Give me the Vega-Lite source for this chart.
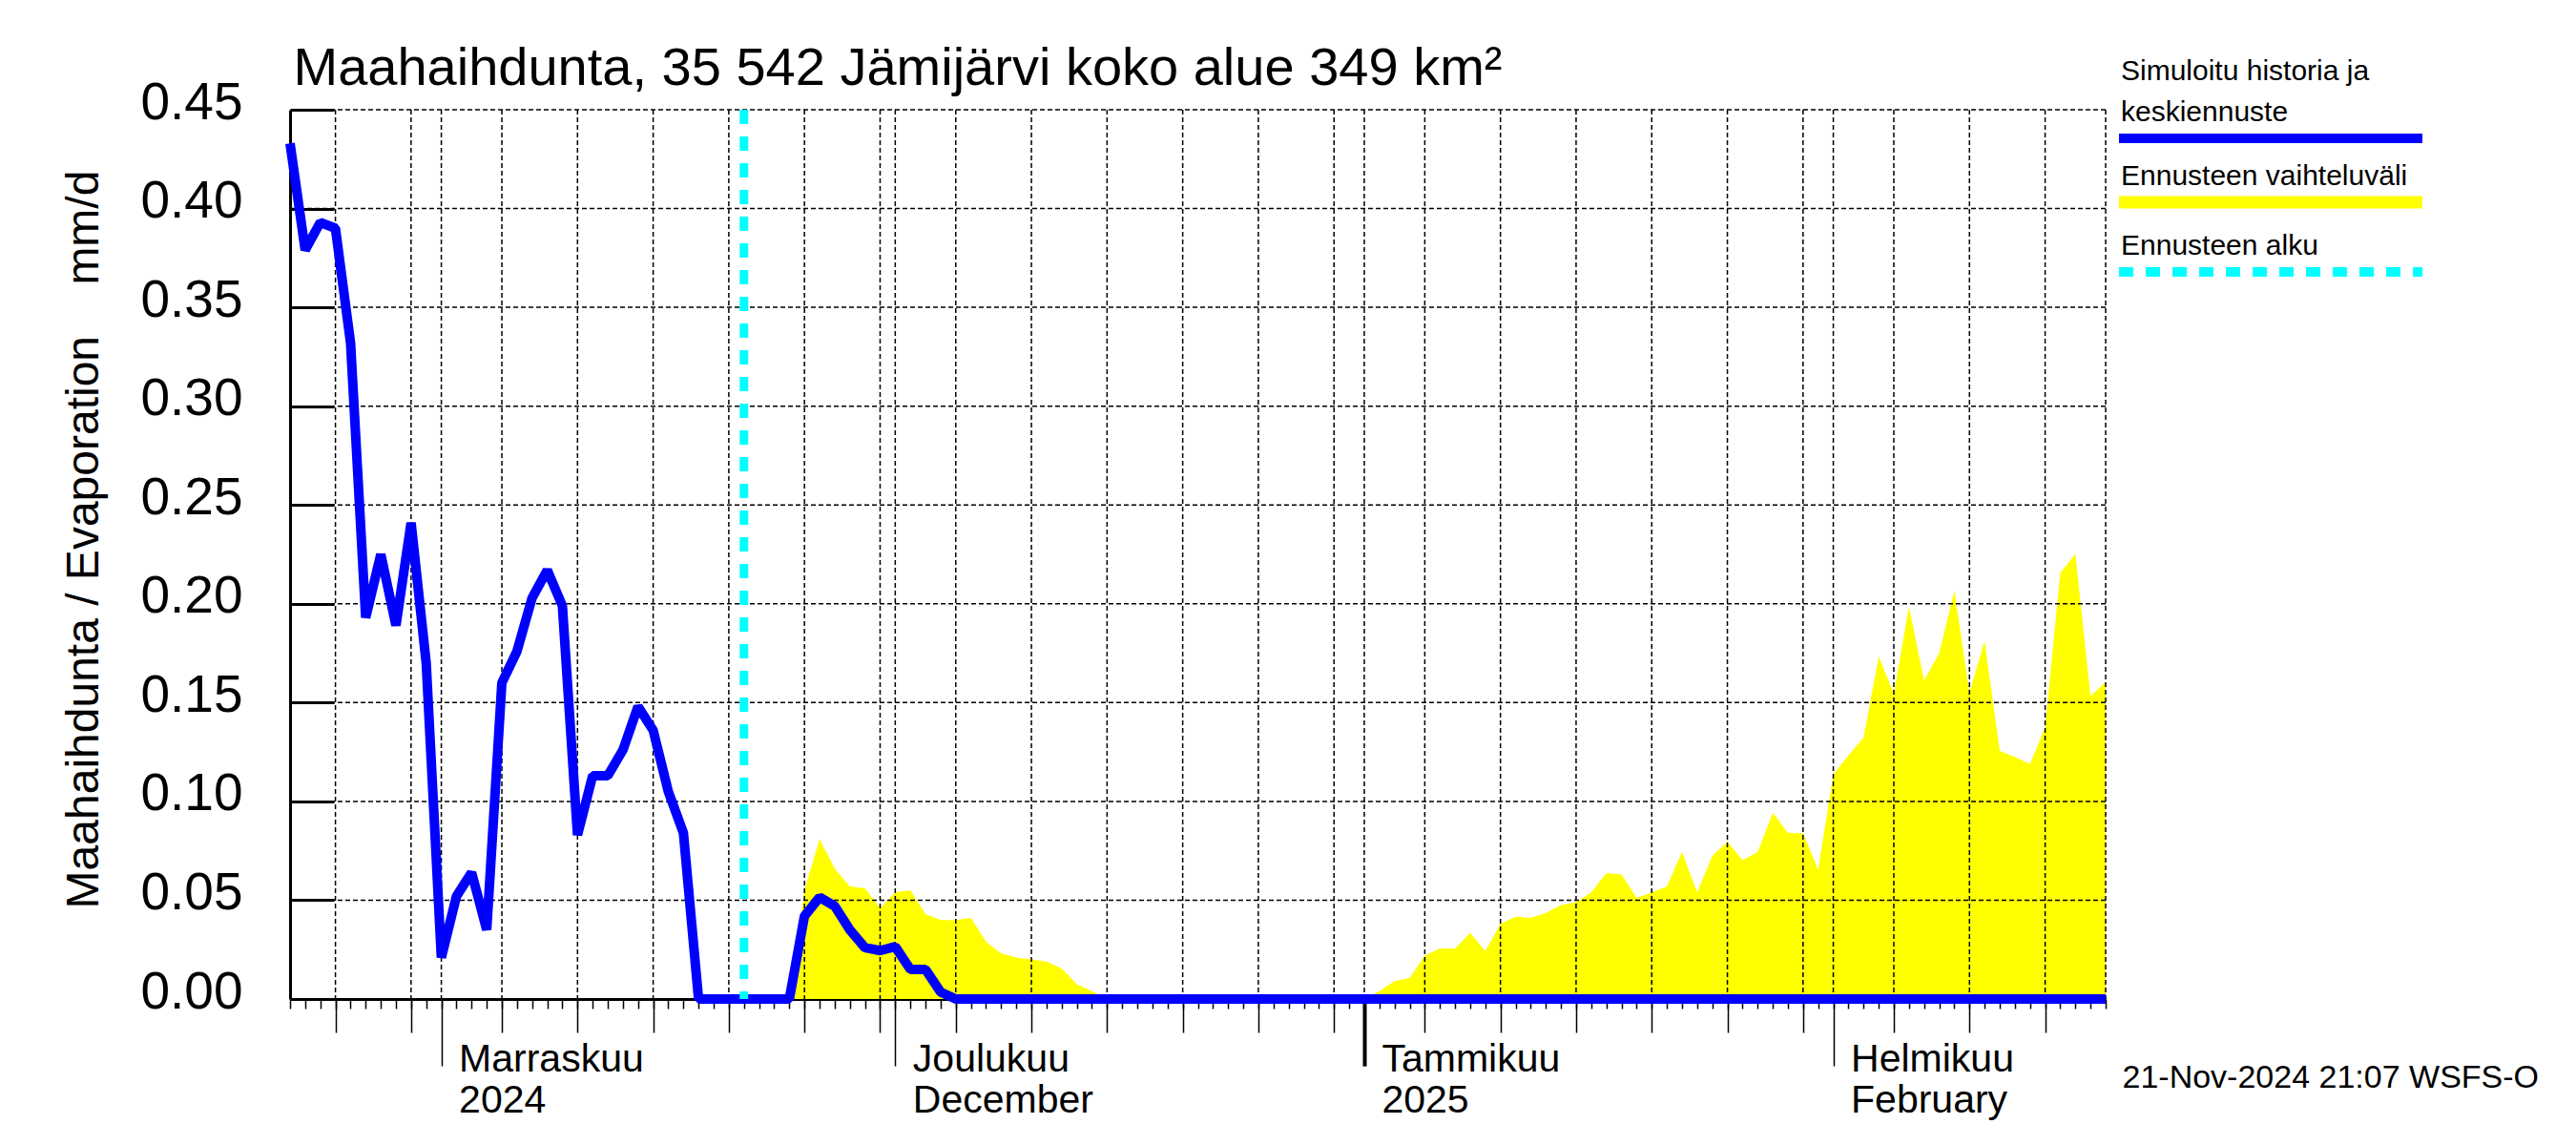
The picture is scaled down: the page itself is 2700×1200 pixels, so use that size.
{
  "$schema": "https://vega.github.io/schema/vega-lite/v6.json",
  "width": 1903,
  "height": 932,
  "autosize": {"type": "none"},
  "padding": {"left": 304, "top": 115, "right": 493, "bottom": 153},
  "background": "white",
  "config": {"view": {"stroke": null}, "font": "Liberation Sans"},
  "datasets": {
    "series": [
      {"date": "2024-10-22", "v": 0.433},
      {"date": "2024-10-23", "v": 0.379},
      {"date": "2024-10-24", "v": 0.393},
      {"date": "2024-10-25", "v": 0.390},
      {"date": "2024-10-26", "v": 0.332},
      {"date": "2024-10-27", "v": 0.193},
      {"date": "2024-10-28", "v": 0.225},
      {"date": "2024-10-29", "v": 0.189},
      {"date": "2024-10-30", "v": 0.241},
      {"date": "2024-10-31", "v": 0.170},
      {"date": "2024-11-01", "v": 0.021},
      {"date": "2024-11-02", "v": 0.052},
      {"date": "2024-11-03", "v": 0.064},
      {"date": "2024-11-04", "v": 0.035},
      {"date": "2024-11-05", "v": 0.160},
      {"date": "2024-11-06", "v": 0.176},
      {"date": "2024-11-07", "v": 0.203},
      {"date": "2024-11-08", "v": 0.217},
      {"date": "2024-11-09", "v": 0.199},
      {"date": "2024-11-10", "v": 0.083},
      {"date": "2024-11-11", "v": 0.113},
      {"date": "2024-11-12", "v": 0.113},
      {"date": "2024-11-13", "v": 0.126},
      {"date": "2024-11-14", "v": 0.148},
      {"date": "2024-11-15", "v": 0.136},
      {"date": "2024-11-16", "v": 0.105},
      {"date": "2024-11-17", "v": 0.084},
      {"date": "2024-11-18", "v": 0},
      {"date": "2024-11-19", "v": 0},
      {"date": "2024-11-20", "v": 0},
      {"date": "2024-11-21", "v": 0, "hi": 0},
      {"date": "2024-11-22", "v": 0, "hi": 0},
      {"date": "2024-11-23", "v": 0, "hi": 0},
      {"date": "2024-11-24", "v": 0, "hi": 0},
      {"date": "2024-11-25", "v": 0.042, "hi": 0.055},
      {"date": "2024-11-26", "v": 0.0515, "hi": 0.081},
      {"date": "2024-11-27", "v": 0.047, "hi": 0.066},
      {"date": "2024-11-28", "v": 0.035, "hi": 0.057},
      {"date": "2024-11-29", "v": 0.026, "hi": 0.056},
      {"date": "2024-11-30", "v": 0.0245, "hi": 0.046},
      {"date": "2024-12-01", "v": 0.0265, "hi": 0.054},
      {"date": "2024-12-02", "v": 0.015, "hi": 0.055},
      {"date": "2024-12-03", "v": 0.015, "hi": 0.043},
      {"date": "2024-12-04", "v": 0.0035, "hi": 0.040},
      {"date": "2024-12-05", "v": 0, "hi": 0.040},
      {"date": "2024-12-06", "v": 0, "hi": 0.041},
      {"date": "2024-12-07", "v": 0, "hi": 0.029},
      {"date": "2024-12-08", "v": 0, "hi": 0.023},
      {"date": "2024-12-09", "v": 0, "hi": 0.021},
      {"date": "2024-12-10", "v": 0, "hi": 0.020},
      {"date": "2024-12-11", "v": 0, "hi": 0.019},
      {"date": "2024-12-12", "v": 0, "hi": 0.0155},
      {"date": "2024-12-13", "v": 0, "hi": 0.0075},
      {"date": "2024-12-14", "v": 0, "hi": 0.004},
      {"date": "2024-12-15", "v": 0, "hi": 0},
      {"date": "2024-12-16", "v": 0, "hi": 0},
      {"date": "2024-12-17", "v": 0, "hi": 0},
      {"date": "2024-12-18", "v": 0, "hi": 0},
      {"date": "2024-12-19", "v": 0, "hi": 0},
      {"date": "2024-12-20", "v": 0, "hi": 0},
      {"date": "2024-12-21", "v": 0, "hi": 0},
      {"date": "2024-12-22", "v": 0, "hi": 0},
      {"date": "2024-12-23", "v": 0, "hi": 0},
      {"date": "2024-12-24", "v": 0, "hi": 0},
      {"date": "2024-12-25", "v": 0, "hi": 0},
      {"date": "2024-12-26", "v": 0, "hi": 0},
      {"date": "2024-12-27", "v": 0, "hi": 0},
      {"date": "2024-12-28", "v": 0, "hi": 0},
      {"date": "2024-12-29", "v": 0, "hi": 0},
      {"date": "2024-12-30", "v": 0, "hi": 0},
      {"date": "2024-12-31", "v": 0, "hi": 0},
      {"date": "2025-01-01", "v": 0, "hi": 0},
      {"date": "2025-01-02", "v": 0, "hi": 0.004},
      {"date": "2025-01-03", "v": 0, "hi": 0.009},
      {"date": "2025-01-04", "v": 0, "hi": 0.0106},
      {"date": "2025-01-05", "v": 0, "hi": 0.022},
      {"date": "2025-01-06", "v": 0, "hi": 0.0256},
      {"date": "2025-01-07", "v": 0, "hi": 0.0256},
      {"date": "2025-01-08", "v": 0, "hi": 0.0336},
      {"date": "2025-01-09", "v": 0, "hi": 0.0243},
      {"date": "2025-01-10", "v": 0, "hi": 0.038},
      {"date": "2025-01-11", "v": 0, "hi": 0.0417},
      {"date": "2025-01-12", "v": 0, "hi": 0.041},
      {"date": "2025-01-13", "v": 0, "hi": 0.0436},
      {"date": "2025-01-14", "v": 0, "hi": 0.0476},
      {"date": "2025-01-15", "v": 0, "hi": 0.049},
      {"date": "2025-01-16", "v": 0, "hi": 0.054},
      {"date": "2025-01-17", "v": 0, "hi": 0.0637},
      {"date": "2025-01-18", "v": 0, "hi": 0.063},
      {"date": "2025-01-19", "v": 0, "hi": 0.0512},
      {"date": "2025-01-20", "v": 0, "hi": 0.054},
      {"date": "2025-01-21", "v": 0, "hi": 0.057},
      {"date": "2025-01-22", "v": 0, "hi": 0.0745},
      {"date": "2025-01-23", "v": 0, "hi": 0.054},
      {"date": "2025-01-24", "v": 0, "hi": 0.0725},
      {"date": "2025-01-25", "v": 0, "hi": 0.0795},
      {"date": "2025-01-26", "v": 0, "hi": 0.0702},
      {"date": "2025-01-27", "v": 0, "hi": 0.0743},
      {"date": "2025-01-28", "v": 0, "hi": 0.0943},
      {"date": "2025-01-29", "v": 0, "hi": 0.0841},
      {"date": "2025-01-30", "v": 0, "hi": 0.0838},
      {"date": "2025-01-31", "v": 0, "hi": 0.0654},
      {"date": "2025-02-01", "v": 0, "hi": 0.1136},
      {"date": "2025-02-02", "v": 0, "hi": 0.1234},
      {"date": "2025-02-03", "v": 0, "hi": 0.1323},
      {"date": "2025-02-04", "v": 0, "hi": 0.1733},
      {"date": "2025-02-05", "v": 0, "hi": 0.1545},
      {"date": "2025-02-06", "v": 0, "hi": 0.1986},
      {"date": "2025-02-07", "v": 0, "hi": 0.1611},
      {"date": "2025-02-08", "v": 0, "hi": 0.175},
      {"date": "2025-02-09", "v": 0, "hi": 0.2066},
      {"date": "2025-02-10", "v": 0, "hi": 0.155},
      {"date": "2025-02-11", "v": 0, "hi": 0.1813},
      {"date": "2025-02-12", "v": 0, "hi": 0.1255},
      {"date": "2025-02-13", "v": 0, "hi": 0.1225},
      {"date": "2025-02-14", "v": 0, "hi": 0.1189},
      {"date": "2025-02-15", "v": 0, "hi": 0.1376},
      {"date": "2025-02-16", "v": 0, "hi": 0.2157},
      {"date": "2025-02-17", "v": 0, "hi": 0.2253},
      {"date": "2025-02-18", "v": 0, "hi": 0.1533},
      {"date": "2025-02-19", "v": 0, "hi": 0.1604}
    ],
    "vgrid": [
      {"d": "2024-10-25"}, {"d": "2024-10-30"}, {"d": "2024-11-01"}, {"d": "2024-11-05"},
      {"d": "2024-11-10"}, {"d": "2024-11-15"}, {"d": "2024-11-20"}, {"d": "2024-11-25"},
      {"d": "2024-11-30"}, {"d": "2024-12-01"}, {"d": "2024-12-05"}, {"d": "2024-12-10"},
      {"d": "2024-12-15"}, {"d": "2024-12-20"}, {"d": "2024-12-25"}, {"d": "2024-12-30"},
      {"d": "2025-01-01"}, {"d": "2025-01-05"}, {"d": "2025-01-10"}, {"d": "2025-01-15"},
      {"d": "2025-01-20"}, {"d": "2025-01-25"}, {"d": "2025-01-30"}, {"d": "2025-02-01"},
      {"d": "2025-02-05"}, {"d": "2025-02-10"}, {"d": "2025-02-15"}, {"d": "2025-02-19"}
    ],
    "hgrid": [
      {"g": 0.05}, {"g": 0.10}, {"g": 0.15}, {"g": 0.20}, {"g": 0.25},
      {"g": 0.30}, {"g": 0.35}, {"g": 0.40}, {"g": 0.45}
    ],
    "start": [{"date": "2024-11-21"}]
  },
  "layer": [
    {
      "data": {"name": "series"},
      "mark": {"type": "area", "color": "#ffff00", "opacity": 1},
      "encoding": {
        "x": {
          "field": "date", "type": "temporal",
          "scale": {"type": "utc", "domain": [1729555200000, 1739923200000]},
          "axis": {
            "orient": "bottom",
            "tickCount": {"interval": "day", "step": 1},
            "tickSize": 10, "tickWidth": 1.5, "tickColor": "black",
            "labels": false, "grid": false,
            "domain": true, "domainColor": "black", "domainWidth": 3,
            "title": "21-Nov-2024 21:07 WSFS-O",
            "titleX": 1920, "titleY": 92, "titleAlign": "left", "titleBaseline": "alphabetic",
            "titleAngle": 0, "titleFont": "Liberation Sans", "titleFontSize": 34,
            "titleFontWeight": "normal", "titleColor": "black", "titleLimit": 0
          }
        },
        "y": {
          "field": "hi", "type": "quantitative", "stack": null,
          "scale": {"domain": [0, 0.45], "nice": false, "zero": true},
          "axis": {
            "orient": "left",
            "values": [0, 0.05, 0.1, 0.15, 0.2, 0.25, 0.3, 0.35, 0.4, 0.45],
            "format": ".2f",
            "labelFont": "Liberation Sans", "labelFontSize": 55, "labelColor": "black",
            "labelPadding": 96, "labelOffset": -8, "labelOverlap": false, "labelBound": false, "labelFlush": false,
            "tickSize": -46, "tickWidth": 3, "tickColor": "black",
            "domain": true, "domainWidth": 3, "domainColor": "black",
            "grid": false,
            "title": "Maahaihdunta / Evaporation\u00a0\u00a0\u00a0\u00a0mm/d",
            "titleFont": "Liberation Sans", "titleFontSize": 48, "titleFontWeight": "normal",
            "titleColor": "black", "titleX": -202, "titleY": 450, "titleAngle": 270,
            "titleAlign": "center", "titleBaseline": "alphabetic", "titleLimit": 0
          }
        }
      }
    },
    {
      "data": {"name": "vgrid"},
      "mark": {"type": "rule", "color": "black", "strokeWidth": 1.5, "strokeDash": [5, 3]},
      "encoding": {
        "x": {
          "field": "d", "type": "temporal",
          "scale": {"type": "utc", "domain": [1729555200000, 1739923200000]},
          "axis": {
            "orient": "bottom",
            "values": [1729814400000, 1730246400000, 1730764800000, 1731196800000, 1731628800000, 1732060800000, 1732492800000, 1732924800000, 1733356800000, 1733788800000, 1734220800000, 1734652800000, 1735084800000, 1735516800000, 1736035200000, 1736467200000, 1736899200000, 1737331200000, 1737763200000, 1738195200000, 1738713600000, 1739145600000, 1739577600000],
            "tickSize": 35, "tickWidth": 1.5, "tickColor": "black",
            "labels": false, "domain": false, "grid": false,
            "title": "Maahaihdunta, 35 542 Jämijärvi koko alue 349 km²",
            "titleX": 3, "titleY": -959, "titleAlign": "left", "titleBaseline": "alphabetic",
            "titleAngle": 0, "titleFont": "Liberation Sans", "titleFontSize": 56,
            "titleFontWeight": "normal", "titleColor": "black", "titleLimit": 0
          }
        }
      }
    },
    {
      "data": {"name": "hgrid"},
      "mark": {"type": "rule", "color": "black", "strokeWidth": 1.5, "strokeDash": [5, 3]},
      "encoding": {
        "y": {
          "field": "g", "type": "quantitative",
          "scale": {"domain": [0, 0.45], "nice": false, "zero": true}
        }
      }
    },
    {
      "data": {"name": "series"},
      "mark": {"type": "line", "strokeWidth": 10, "strokeJoin": "bevel", "strokeCap": "butt"},
      "encoding": {
        "x": {
          "field": "date", "type": "temporal",
          "scale": {"type": "utc", "domain": [1729555200000, 1739923200000]},
          "axis": {
            "orient": "bottom",
            "values": [1730419200000, 1733011200000, 1735689600000, 1738368000000],
            "tickSize": 70, "tickWidth": 1.5, "tickColor": "black",
            "domain": false, "grid": false, "title": null,
            "labels": true,
            "labelExpr": "utcmonth(datum.value) == 10 ? ['Marraskuu', '2024'] : utcmonth(datum.value) == 11 ? ['Joulukuu', 'December'] : utcmonth(datum.value) == 0 ? ['Tammikuu', '2025'] : ['Helmikuu', 'February']",
            "labelAlign": "left", "labelBaseline": "top",
            "labelOffset": 18, "labelPadding": -27,
            "labelFont": "Liberation Sans", "labelFontSize": 41, "labelColor": "black",
            "labelLineHeight": 43, "labelLimit": 0,
            "labelFlush": false, "labelOverlap": false, "labelBound": false
          }
        },
        "y": {
          "field": "v", "type": "quantitative",
          "scale": {"domain": [0, 0.45], "nice": false, "zero": true}
        },
        "color": {
          "datum": "Simuloitu historia ja keskiennuste",
          "type": "nominal",
          "scale": {
            "domain": ["Simuloitu historia ja keskiennuste", "Ennusteen vaihteluväli", "Ennusteen alku"],
            "range": ["#0000ff", "#ffff00", "#00ffff"]
          },
          "legend": {
            "orient": "none", "legendX": 2061, "legendY": 15,
            "direction": "vertical", "gridAlign": "each",
            "title": null, "padding": 0,
            "symbolType": "stroke", "symbolSize": 101124, "symbolStrokeWidth": 10,
            "labelFont": "Liberation Sans", "labelFontSize": 30, "labelColor": "black",
            "labelLimit": 0, "labelOffset": -172, "labelBaseline": "bottom",
            "labelExpr": "datum.label == 'Simuloitu historia ja keskiennuste' ? ['Simuloitu historia ja', 'keskiennuste'] : datum.label",
            "rowPadding": 5,
            "encode": {
              "symbols": {
                "update": {
                  "strokeDash": {"signal": "datum.value == 'Ennusteen alku' ? [15, 13] : [1, 0]"},
                  "strokeWidth": {"signal": "datum.value == 'Ennusteen vaihteluväli' ? 13 : 10"},
                  "strokeCap": {"value": "butt"},
                  "opacity": {"value": 1}
                }
              },
              "labels": {
                "update": {
                  "dy": {"signal": "datum.value == 'Simuloitu historia ja keskiennuste' ? -55 : -12"},
                  "lineHeight": {"value": 43}
                }
              }
            }
          }
        }
      }
    },
    {
      "data": {"name": "start"},
      "mark": {"type": "rule", "color": "#00ffff", "strokeWidth": 9, "strokeDash": [15, 13], "strokeCap": "butt"},
      "encoding": {
        "x": {
          "field": "date", "type": "temporal",
          "scale": {"type": "utc", "domain": [1729555200000, 1739923200000]},
          "axis": {
            "orient": "bottom",
            "values": [1735689600000],
            "tickSize": 70, "tickWidth": 4, "tickColor": "black",
            "labels": false, "domain": false, "grid": false, "title": null
          }
        }
      }
    }
  ],
  "resolve": {"axis": {"x": "independent"}}
}
